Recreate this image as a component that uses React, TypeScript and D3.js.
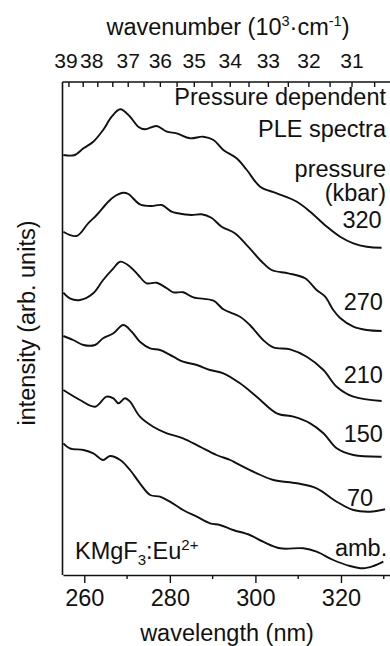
import React, { useEffect, useRef } from 'react';
import * as d3 from 'd3';

type Pt = [number, number]; // [wavelength (nm), intensity (arb. units, offset included)]

const pressures = ['320', '270', '210', '150', '70', 'amb.'];

const ple320: Pt[] = [
  [255.1, 420], [257.8, 420], [259.8, 426.7], [262.1, 433.3], [264.4, 445], [266.4, 458.3],
  [268.4, 465.7], [270.7, 458.3], [272.6, 448.3], [274.2, 445.7], [276.9, 449], [279.3, 443.3],
  [281.6, 441.7], [284.7, 436.7], [287.8, 438.3], [290.2, 435], [292.5, 425], [295.6, 416.7],
  [298.0, 405], [301.1, 388.3], [305.0, 381.7], [309.7, 373.3], [312.8, 363.3], [316.7, 348.3],
  [319.8, 338.3], [322.9, 331.7], [326.0, 328.3], [329.5, 327.3],
];

const ple270: Pt[] = [
  [255.1, 343.3], [258.2, 339], [260.9, 351.7], [262.9, 360], [265.6, 373.3], [267.2, 379],
  [269.1, 382.3], [270.3, 381], [273.0, 370.7], [275.7, 369], [278.1, 370], [280.4, 363.3],
  [281.9, 361.7], [285.0, 360], [287.4, 360.7], [289.7, 357.3], [292.1, 348.3], [295.2, 341.7],
  [298.3, 328.3], [301.5, 313.3], [303.8, 305], [307.7, 301.7], [311.6, 296.7], [314.3, 285],
  [316.3, 278.3], [318.2, 265], [319.8, 257], [322.9, 248.3], [326.0, 245], [329.5, 244],
];

const ple210: Pt[] = [
  [255.1, 282.3], [256.6, 276.7], [259.0, 275], [262.1, 281.7], [264.4, 295], [266.8, 306.7],
  [268.4, 313.3], [270.7, 308.3], [272.6, 300], [274.6, 291.7], [276.9, 292.3], [279.3, 286.7],
  [280.8, 282.7], [283.1, 282.7], [285.5, 277.7], [290.2, 274.3], [292.5, 265.7], [296.4, 258.3],
  [298.7, 250], [301.8, 235], [304.2, 227.7], [308.1, 225.7], [312.0, 218.3], [315.9, 205],
  [319.0, 188.3], [322.9, 178.3], [329.5, 174],
];

const ple150: Pt[] = [
  [255.1, 239], [257.4, 235], [259.8, 230], [262.5, 230], [264.4, 236.7], [266.8, 241.7],
  [269.1, 250], [271.1, 243.3], [273.0, 233.3], [275.4, 226.7], [277.7, 225], [280.8, 218.3],
  [283.1, 213.3], [286.3, 210], [289.4, 205], [292.5, 201.7], [296.4, 191.7], [300.3, 178.3],
  [305.0, 161.7], [308.9, 158.3], [312.8, 151.7], [315.9, 141.7], [319.0, 126.7], [322.9, 120],
  [329.5, 118.3],
];

const ple70: Pt[] = [
  [255.1, 185], [259.0, 175], [262.5, 168.3], [265.2, 178.3], [266.8, 176.7], [268.0, 171.7],
  [269.5, 176.7], [270.7, 173.3], [273.0, 158.3], [276.1, 148.3], [279.3, 141.7], [283.1, 136.7],
  [287.0, 128.3], [290.9, 120], [294.1, 115], [295.6, 111.7], [300.3, 101.7], [304.2, 95],
  [309.7, 91.7], [314.3, 86.7], [319.0, 73.3], [322.9, 65], [326.8, 63.3], [330.3, 65.7],
];

const pleAmb: Pt[] = [
  [255.1, 131.7], [256.6, 126.7], [259.8, 125], [262.1, 121.7], [264.4, 115], [266.0, 119],
  [268.4, 115], [270.7, 105], [273.0, 91.7], [275.4, 80], [277.7, 78.3], [280.0, 73.3],
  [283.1, 65], [286.3, 58.3], [289.4, 51.7], [291.7, 50], [294.8, 45], [298.7, 40],
  [301.8, 33.3], [305.8, 26.7], [311.2, 26.7], [314.3, 23.3], [318.2, 15], [322.1, 9],
  [325.2, 6.7], [327.6, 9], [329.9, 13.3],
];

const spectra = [ple320, ple270, ple210, ple150, ple70, pleAmb];

const wlMajor = [260, 280, 300, 320];
const wlMinor = [270, 290, 310, 330];
const wnLabels = [39, 38, 37, 36, 35, 34, 33, 32, 31];
const wnTicks = [39, 38.5, 38, 37.5, 37, 36.5, 36, 35.5, 35, 34.5, 34, 33.5, 33, 32.5, 32, 31.5, 31, 30.5];

// label anchors: right edge (nm) and baseline (arb. units)
const labelAnchors: Pt[] = [[329.5, 347], [329.8, 265], [329.8, 192], [329.8, 133], [327.5, 69], [330.8, 19]];

const W = 390;
const H = 646;
const FONT = '"Liberation Sans", Arial, Helvetica, sans-serif';
const FS = 23.5;

export default function App() {
  const svgRef = useRef<SVGSVGElement>(null);

  useEffect(() => {
    if (!svgRef.current) return;
    const svg = d3.select(svgRef.current);
    svg.selectAll('*').remove();

    const top = 82;
    const bottom = 575;
    const left = 62.5;

    const x = d3.scaleLinear().domain([255, 331.6]).range([62.9, 390.6]);
    const y = d3.scaleLinear().domain([0, 493]).range([bottom, top]);

    // frame
    svg.append('line')
      .attr('x1', left).attr('x2', left).attr('y1', top).attr('y2', bottom)
      .attr('stroke', '#111').attr('stroke-width', 1.6);
    svg.append('line')
      .attr('x1', left).attr('x2', W).attr('y1', top).attr('y2', top)
      .attr('stroke', '#111').attr('stroke-width', 1.6);

    // bottom axis
    const xAxis = svg.append('g').attr('transform', `translate(0,${bottom})`)
      .call(d3.axisBottom(x).tickValues(wlMajor).tickSize(8).tickSizeOuter(0).tickPadding(6));
    xAxis.select('.domain').attr('stroke', '#111').attr('stroke-width', 1.6);
    xAxis.selectAll('.tick line').attr('stroke', '#111').attr('stroke-width', 1.4);
    xAxis.selectAll('.tick text')
      .attr('font-family', FONT).attr('font-size', FS).attr('fill', '#111');

    svg.append('g').attr('transform', `translate(0,${bottom})`)
      .selectAll('line').data(wlMinor).join('line')
      .attr('x1', (d) => x(d)).attr('x2', (d) => x(d))
      .attr('y1', 0).attr('y2', 4)
      .attr('stroke', '#111').attr('stroke-width', 1.4);

    // top axis (wavenumber, 10^3 cm^-1)
    svg.append('g').selectAll('line').data(wnTicks).join('line')
      .attr('x1', (d) => x(1e4 / d)).attr('x2', (d) => x(1e4 / d))
      .attr('y1', top).attr('y2', top + 5)
      .attr('stroke', '#111').attr('stroke-width', 1.4);
    // the two leftmost labels are crowded together in the original
    const crowd: Record<number, number> = { 39: -3, 38: -6 };
    svg.append('g').selectAll('text').data(wnLabels).join('text')
      .attr('x', (d) => x(1e4 / d) + (crowd[d] || 0))
      .attr('y', 68)
      .attr('text-anchor', 'middle')
      .attr('font-family', FONT).attr('font-size', 21).attr('fill', '#111')
      .text((d) => d);

    // axis titles
    const topTitle = svg.append('text')
      .attr('x', 228).attr('y', 35)
      .attr('text-anchor', 'middle')
      .attr('font-family', FONT).attr('font-size', FS).attr('fill', '#111');
    topTitle.append('tspan').text('wavenumber (10');
    topTitle.append('tspan').attr('font-size', 14.5).attr('dy', -9).text('3');
    topTitle.append('tspan').attr('dy', 9).text('·cm');
    topTitle.append('tspan').attr('font-size', 14.5).attr('dy', -9).text('-1');
    topTitle.append('tspan').attr('dy', 9).text(')');

    svg.append('text')
      .attr('x', 227).attr('y', 641)
      .attr('text-anchor', 'middle')
      .attr('font-family', FONT).attr('font-size', FS).attr('fill', '#111')
      .text('wavelength (nm)');

    svg.append('text')
      .attr('transform', `translate(35,323) rotate(-90)`)
      .attr('text-anchor', 'middle')
      .attr('font-family', FONT).attr('font-size', FS).attr('fill', '#111')
      .text('intensity (arb. units)');

    // spectra
    const line = d3.line<Pt>()
      .x((d) => x(d[0]))
      .y((d) => y(d[1]))
      .curve(d3.curveCatmullRom.alpha(0.5));

    svg.append('g').selectAll('path').data(spectra).join('path')
      .attr('d', (d) => line(d))
      .attr('fill', 'none')
      .attr('stroke', '#111')
      .attr('stroke-width', 1.9)
      .attr('stroke-linejoin', 'round');

    // pressure labels
    svg.append('g').selectAll('text').data(pressures).join('text')
      .attr('x', (_, i) => x(labelAnchors[i][0]))
      .attr('y', (_, i) => y(labelAnchors[i][1]))
      .attr('text-anchor', 'end')
      .attr('font-family', FONT).attr('font-size', FS).attr('fill', '#111')
      .text((d) => d);

    // annotations
    const notes: [string, number][] = [
      ['Pressure dependent', 105],
      ['PLE spectra', 137],
      ['pressure', 177],
      ['(kbar)', 201],
    ];
    svg.append('g').selectAll('text').data(notes).join('text')
      .attr('x', 386)
      .attr('y', (d) => d[1])
      .attr('text-anchor', 'end')
      .attr('font-family', FONT).attr('font-size', FS).attr('fill', '#111')
      .text((d) => d[0]);

    const sample = svg.append('text')
      .attr('x', 75).attr('y', 559)
      .attr('font-family', FONT).attr('font-size', FS).attr('fill', '#111');
    sample.append('tspan').text('KMgF');
    sample.append('tspan').attr('font-size', 15).attr('dy', 6).text('3');
    sample.append('tspan').attr('dy', -6).text(':Eu');
    sample.append('tspan').attr('font-size', 15).attr('dy', -9).text('2+');
  }, []);

  return (
    <div>
      <style>{`body{margin:0;}`}</style>
      <svg
        ref={svgRef}
        width={W}
        height={H}
        style={{ display: 'block', background: '#fff' }}
        role="img"
        aria-label="Pressure dependent PLE spectra of KMgF3:Eu2+"
      />
    </div>
  );
}
